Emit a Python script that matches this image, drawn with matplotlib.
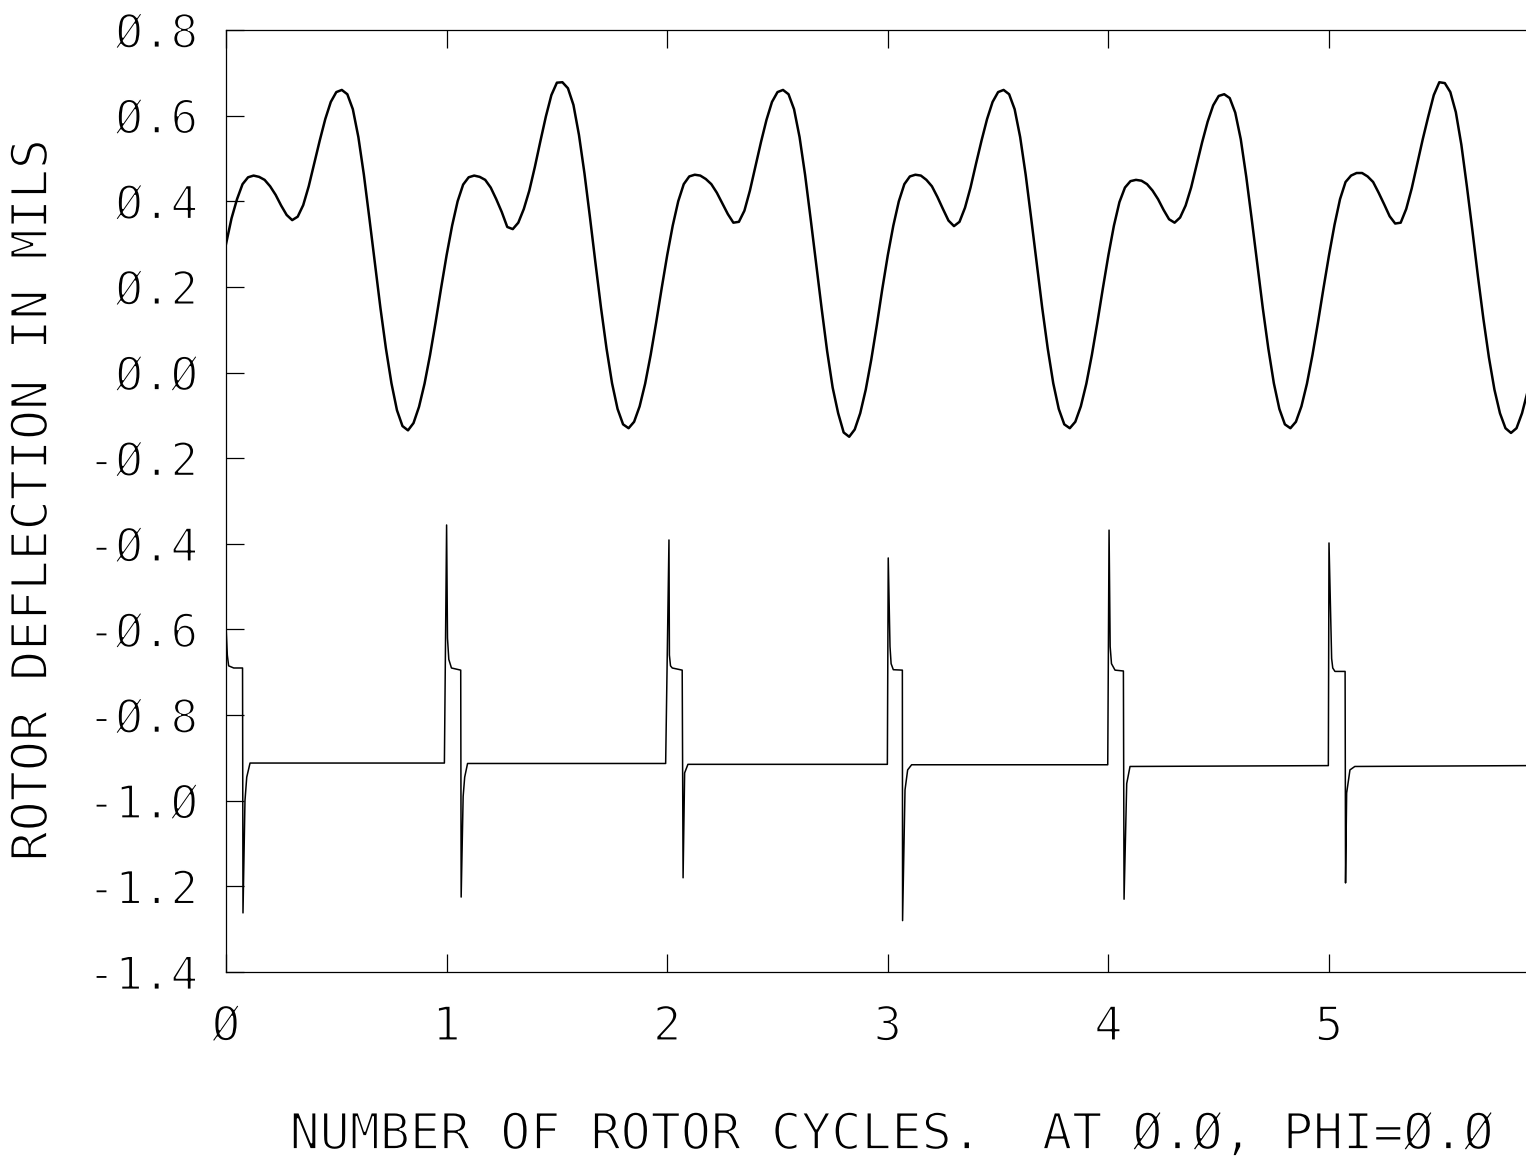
import matplotlib
matplotlib.use("Agg")
import matplotlib.pyplot as plt
import matplotlib.patheffects as pe

# ---------------- data ----------------
PHASES = [0.000, 0.025, 0.050, 0.075, 0.100, 0.125, 0.150, 0.175, 0.200, 0.225,
          0.250, 0.275, 0.300, 0.325, 0.350, 0.375, 0.400, 0.425, 0.450, 0.475,
          0.500, 0.525, 0.550, 0.575, 0.600, 0.625, 0.650, 0.675, 0.700, 0.725,
          0.750, 0.775, 0.800, 0.825, 0.850, 0.875, 0.900, 0.925, 0.950, 0.975]

UPPER_C0 = [0.300, 0.360, 0.405, 0.440, 0.456, 0.460, 0.457, 0.450, 0.435, 0.415,
            0.390, 0.368, 0.356, 0.364, 0.391, 0.435, 0.488, 0.542, 0.592, 0.632,
            0.655, 0.660, 0.650, 0.615, 0.550, 0.462, 0.360, 0.255, 0.151, 0.056,
            -0.025, -0.088, -0.125, -0.135, -0.118, -0.080, -0.026, 0.041, 0.117, 0.197]
UPPER_C1 = [0.274, 0.343, 0.400, 0.439, 0.456, 0.460, 0.457, 0.450, 0.432, 0.405,
            0.375, 0.340, 0.335, 0.350, 0.382, 0.425, 0.480, 0.540, 0.598, 0.648,
            0.677, 0.678, 0.664, 0.625, 0.555, 0.465, 0.362, 0.255, 0.151, 0.056,
            -0.025, -0.085, -0.121, -0.130, -0.115, -0.079, -0.026, 0.041, 0.117, 0.197]
UPPER_C2 = [0.274, 0.343, 0.400, 0.440, 0.458, 0.462, 0.460, 0.452, 0.440, 0.420,
            0.395, 0.370, 0.350, 0.352, 0.378, 0.425, 0.482, 0.538, 0.590, 0.632,
            0.655, 0.660, 0.650, 0.615, 0.550, 0.462, 0.360, 0.255, 0.150, 0.050,
            -0.035, -0.095, -0.140, -0.150, -0.133, -0.095, -0.040, 0.030, 0.110, 0.195]
UPPER_C3 = [0.274, 0.343, 0.400, 0.440, 0.458, 0.462, 0.460, 0.450, 0.435, 0.410,
            0.382, 0.355, 0.342, 0.352, 0.385, 0.432, 0.488, 0.542, 0.592, 0.632,
            0.655, 0.660, 0.650, 0.615, 0.550, 0.462, 0.360, 0.255, 0.151, 0.056,
            -0.025, -0.085, -0.121, -0.130, -0.115, -0.079, -0.026, 0.041, 0.117, 0.197]
UPPER_C4 = [0.274, 0.343, 0.398, 0.432, 0.447, 0.450, 0.448, 0.440, 0.425, 0.405,
            0.380, 0.358, 0.350, 0.362, 0.390, 0.432, 0.485, 0.538, 0.586, 0.624,
            0.646, 0.650, 0.641, 0.607, 0.545, 0.457, 0.357, 0.253, 0.150, 0.056,
            -0.025, -0.085, -0.121, -0.130, -0.115, -0.079, -0.026, 0.041, 0.117, 0.197]
UPPER_C5 = [0.274, 0.345, 0.405, 0.445, 0.460, 0.466, 0.466, 0.458, 0.445, 0.420,
            0.393, 0.365, 0.348, 0.350, 0.382, 0.430, 0.487, 0.545, 0.598, 0.648,
            0.678, 0.676, 0.655, 0.608, 0.532, 0.435, 0.332, 0.225, 0.125, 0.035,
            -0.040, -0.095, -0.130, -0.141, -0.130, -0.095, -0.045, 0.020, 0.100, 0.180]
UPPER_CYCLES = [UPPER_C0, UPPER_C1, UPPER_C2, UPPER_C3, UPPER_C4, UPPER_C5]

LOWER_X = [0.000, 0.006, 0.012, 0.035, 0.075, 0.077, 0.086, 0.094, 0.109,
           0.990, 1.000, 1.004, 1.010, 1.022, 1.064, 1.066, 1.075, 1.082, 1.095,
           1.993, 2.008, 2.010, 2.015, 2.023, 2.068, 2.072, 2.079, 2.094,
           2.998, 3.002, 3.010, 3.015, 3.025, 3.066, 3.067, 3.078, 3.090, 3.108,
           3.997, 4.003, 4.008, 4.014, 4.030, 4.068, 4.071, 4.083, 4.098,
           4.997, 5.000, 5.012, 5.017, 5.027, 5.073, 5.075, 5.080, 5.095, 5.117, 5.893]
LOWER_Y = [-0.59, -0.66, -0.685, -0.69, -0.69, -1.262, -1.0, -0.945, -0.912,
           -0.912, -0.356, -0.62, -0.67, -0.69, -0.695, -1.225, -0.99, -0.945, -0.913,
           -0.913, -0.391, -0.66, -0.685, -0.69, -0.695, -1.18, -0.935, -0.915,
           -0.915, -0.433, -0.64, -0.68, -0.694, -0.695, -1.28, -0.975, -0.928, -0.916,
           -0.916, -0.368, -0.64, -0.68, -0.695, -0.697, -1.23, -0.96, -0.92,
           -0.918, -0.398, -0.668, -0.69, -0.698, -0.698, -1.192, -0.982, -0.928, -0.92, -0.918]

X_TICKS = [0, 1, 2, 3, 4, 5]
X_TICK_LABELS = ["Ø", "1", "2", "3", "4", "5"]
Y_TICKS = [0.8, 0.6, 0.4, 0.2, 0.0, -0.2, -0.4, -0.6, -0.8, -1.0, -1.2, -1.4]
Y_TICK_LABELS = ["Ø.8", "Ø.6", "Ø.4", "Ø.2", "Ø.Ø", "-Ø.2", "-Ø.4", "-Ø.6",
                 "-Ø.8", "-1.Ø", "-1.2", "-1.4"]
X_LABEL = "NUMBER OF ROTOR CYCLES.  AT Ø.Ø, PHI=Ø.Ø"
Y_LABEL = "ROTOR DEFLECTION IN MILS"

# ---------------- build upper series ----------------
upper_x, upper_y = [], []
for k, ys in enumerate(UPPER_CYCLES):
    for p, v in zip(PHASES, ys):
        upper_x.append(k + p)
        upper_y.append(v)

# ---------------- figure ----------------
W, H = 1526, 1173
fig = plt.figure(figsize=(W / 100, H / 100), dpi=100)
left_px, right_px, top_px, bot_px = 226, 1526, 30, 972
ax = fig.add_axes([left_px / W, 1 - bot_px / H, (right_px - left_px) / W, (bot_px - top_px) / H])

ax.plot(upper_x, upper_y, color="black", lw=1.8, solid_joinstyle="round")
ax.plot(LOWER_X, LOWER_Y, color="black", lw=1.1, solid_joinstyle="round")

ax.set_xlim(0, (right_px - left_px) / 220.6)
ax.set_ylim(-1.4, 0.8)

for s in ["left", "top", "bottom"]:
    ax.spines[s].set_linewidth(0.9)
    ax.spines[s].set_color("black")
ax.spines["right"].set_visible(False)

thin = [pe.Normal(), pe.Stroke(linewidth=1.3, foreground="white")]
font = {"family": "DejaVu Sans Mono"}

ax.set_xticks(X_TICKS)
ax.set_xticklabels(X_TICK_LABELS, fontsize=34, path_effects=thin, **font)
ax.set_yticks(Y_TICKS)
ax.set_yticklabels(Y_TICK_LABELS, fontsize=33, path_effects=thin, **font)
ax.tick_params(axis="x", direction="in", length=13, width=0.9, top=True, bottom=True, pad=24)
ax.tick_params(axis="y", direction="in", length=13, width=0.9, left=True, right=False, pad=20)

fig.text(892 / W, 1 - 1135 / H, X_LABEL, ha="center", va="center", fontsize=36,
         path_effects=thin, **font)
fig.text(33 / W, 1 - 500 / H, Y_LABEL, ha="center", va="center", rotation=90,
         fontsize=36, path_effects=thin, **font)

fig.savefig("out.png", dpi=100, facecolor="white")
